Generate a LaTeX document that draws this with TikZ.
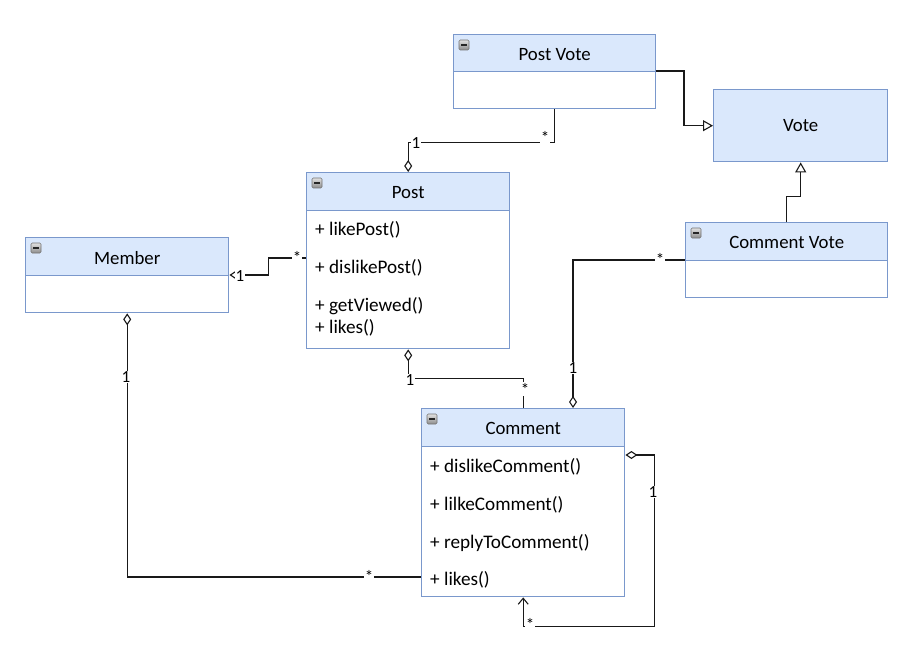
\documentclass[tikz,border=0pt]{standalone}
\usepackage{fontspec}
\setmainfont{Carlito}
\usetikzlibrary{arrows.meta,calc}
\definecolor{hdr}{RGB}{218,232,252}
\definecolor{bdr}{RGB}{122,152,204}
\begin{document}
\begin{tikzpicture}[x=1pt,y=-1pt,
  classbox/.style={draw=bdr, line width=1.4pt, fill=white, inner sep=0pt, anchor=north west},
  hdrbox/.style={draw=bdr, line width=1.4pt, fill=hdr, inner sep=0pt, anchor=north west},
  title/.style={font=\fontsize{18.8}{21}\selectfont, inner sep=0pt},
  item/.style={font=\fontsize{19.2}{22}\selectfont, anchor=west, inner sep=0pt},
  icon/.style={minimum size=10pt, inner sep=0pt, draw=black!55, line width=0.6pt, rounded corners=1.2pt,
    top color=black!12, bottom color=black!45,
    path picture={\draw[line width=1.6pt,black!85] ([xshift=2pt]path picture bounding box.west) -- ([xshift=-2pt]path picture bounding box.east);}},
  conn/.style={draw=black!90, line width=1.1pt},
  agg/.style={conn},
  mult/.style={font=\fontsize{17}{18}\selectfont, fill=white, inner sep=1pt},
  dia/.tip={Diamond[open,length=12pt,width=8pt,line width=1.1pt]},
  tri/.tip={Triangle[open,length=10pt,width=11pt,line width=1.1pt]},
  barb/.tip={Straight Barb[length=6pt,width=10pt,line width=1.1pt]}
]
\useasboundingbox (0,0) rectangle (916,650);

% Post Vote
\node[classbox, minimum width=202pt, minimum height=74pt] (postvote) at (453,34) {};
\node[hdrbox, minimum width=202pt, minimum height=37pt] (postvoteH) at (453,34) {};
\node[title] (postvoteT) at ($(postvoteH.center)+(0,1)$) {Post Vote};
\node[icon] (postvoteI) at ($(postvoteH.north west)+(11,11)$) {};

% Vote
\node[hdrbox, minimum width=174pt, minimum height=72pt] (vote) at (713,89) {};
\node[title] (voteT) at (vote.center) {Vote};

% Post
\node[classbox, minimum width=203pt, minimum height=176pt] (post) at (306,172) {};
\node[hdrbox, minimum width=203pt, minimum height=38pt] (postH) at (306,172) {};
\node[title] (postT) at ($(postH.center)+(0,1)$) {Post};
\node[icon] (postI) at ($(postH.north west)+(11,11)$) {};
\node[item] (p1) at (315,230) {+ likePost()};
\node[item] (p2) at (315,268) {+ dislikePost()};
\node[item] (p3) at (315,306) {+ getViewed()};
\node[item] (p4) at (315,328) {+ likes()};

% Member
\node[classbox, minimum width=203pt, minimum height=75pt] (member) at (25,237) {};
\node[hdrbox, minimum width=203pt, minimum height=38pt] (memberH) at (25,237) {};
\node[title] (memberT) at ($(memberH.center)+(0,1)$) {Member};
\node[icon] (memberI) at ($(memberH.north west)+(11,11)$) {};

% Comment Vote
\node[classbox, minimum width=202pt, minimum height=75pt] (cvote) at (685,222) {};
\node[hdrbox, minimum width=202pt, minimum height=38pt] (cvoteH) at (685,222) {};
\node[title] (cvoteT) at ($(cvoteH.center)+(0,1)$) {Comment Vote};
\node[icon] (cvoteI) at ($(cvoteH.north west)+(11,11)$) {};

% Comment
\node[classbox, minimum width=203pt, minimum height=188pt] (comment) at (421,408) {};
\node[hdrbox, minimum width=203pt, minimum height=38pt] (commentH) at (421,408) {};
\node[title] (commentT) at ($(commentH.center)+(0,1)$) {Comment};
\node[icon] (commentI) at ($(commentH.north west)+(11,11)$) {};
\node[item] (c1) at (430,467) {+ dislikeComment()};
\node[item] (c2) at (430,505) {+ lilkeComment()};
\node[item] (c3) at (430,543) {+ replyToComment()};
\node[item] (c4) at (430,580) {+ likes()};

% Generalizations
\draw[conn,-tri] ($(postvote.north east)+(0,37)$) -| ($(vote.west)+(-29,0)$) -- (vote.west);
\draw[conn,-tri] (cvote.north) |- ($(vote.south)+(0,34)$) -- (vote.south);

% Post Vote -- Post
\draw[agg,-dia] (postvote.south) -- ++(0,33) -| (post.north);
\node[mult] at (545,137) {*};
\node[mult] at (416,143) {1};

% Member -- Post
\draw[agg,dia-] ($(member.north east)+(0,38)$) -- ++(39,0) |- ($(post.north west)+(0,86)$);
\node[mult] at (297,257) {*};
\node[mult] at (240,276) {1};

% Member -- Comment
\draw[agg,dia-] (member.south) |- ($(comment.north west)+(0,169)$);
\node[mult] at (126,377) {1};
\node[mult] at (369,576) {*};

% Post -- Comment
\draw[agg,dia-] (post.south) -- ++(0,29) -| (comment.north);
\node[mult] at (410,380) {1};
\node[mult] at (525,389) {*};

% Comment Vote -- Comment
\draw[agg,-dia] ($(cvote.north west)+(0,38)$) -| ($(comment.north west)+(152,0)$);
\node[mult] at (660,259) {*};
\node[mult] at (573,368) {1};

% Comment self association
\draw[agg,dia-barb] ($(comment.north east)+(0,47)$) -- ++(29,0) |- ($(comment.south)+(0,29)$) -- (comment.south);
\node[mult] at (653,492) {1};
\node[mult] at (530,624) {*};
\end{tikzpicture}
\end{document}
